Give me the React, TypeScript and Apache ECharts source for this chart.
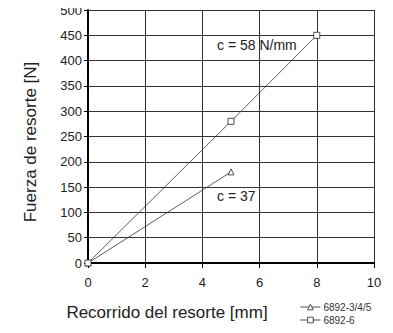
import React, { useEffect, useRef } from "react";
import * as echarts from "echarts";

const seriesNames = ["6892-3/4/5", "6892-6"];
const travelA = [0, 5];
const forceA = [0, 180];
const travelB = [0, 5, 8];
const forceB = [0, 280, 450];
const labelTexts = ["c = 58 N/mm", "c = 37"];
const axisTitles = ["Recorrido del resorte [mm]", "Fuerza de resorte [N]"];

export default function App() {
  const ref = useRef<HTMLDivElement>(null);
  useEffect(() => {
    const chart = echarts.init(ref.current!, null, { renderer: "svg" });
    const font = "Liberation Sans, Arial, sans-serif";
    chart.setOption({
      animation: false,
      backgroundColor: "#fff",
      textStyle: { fontFamily: font },
      grid: { left: 88, top: 10, right: 19, bottom: 70 },
      xAxis: {
        type: "value",
        min: 0,
        max: 10,
        interval: 2,
        axisLine: { onZero: false, lineStyle: { color: "#000", width: 2 } },
        axisTick: { show: true, length: 5, lineStyle: { color: "#000" } },
        axisLabel: { fontSize: 13, color: "#222", margin: 13, fontFamily: font },
        splitLine: { show: true, lineStyle: { color: "#333", width: 1 } },
      },
      yAxis: {
        type: "value",
        min: 0,
        max: 500,
        interval: 50,
        axisLine: { onZero: false, lineStyle: { color: "#000", width: 2 } },
        axisTick: { show: true, length: 4, lineStyle: { color: "#000" } },
        axisLabel: { fontSize: 13, color: "#222", margin: 6, fontFamily: font },
        splitLine: { show: true, lineStyle: { color: "#333", width: 1 } },
      },
      legend: {
        orient: "vertical",
        left: 300,
        top: 302,
        padding: 0,
        itemWidth: 20,
        itemHeight: 7,
        itemGap: 3,
        itemStyle: { color: "#fff", borderColor: "#222", borderWidth: 0.8 },
        lineStyle: { color: "#222", width: 0.8 },
        textStyle: { fontSize: 10, color: "#333", fontFamily: font, padding: [0, 0, 0, -2] },
        data: seriesNames,
      },
      series: [
        {
          name: seriesNames[0],
          type: "line",
          data: travelA.map((x, i) => [x, forceA[i]]),
          symbol: "triangle",
          symbolSize: 6,
          lineStyle: { color: "#333", width: 0.8 },
          itemStyle: { color: "#fff", borderColor: "#222", borderWidth: 0.8 },
        },
        {
          name: seriesNames[1],
          type: "line",
          data: travelB.map((x, i) => [x, forceB[i]]),
          symbol: "rect",
          symbolSize: 6,
          lineStyle: { color: "#333", width: 0.8 },
          itemStyle: { color: "#fff", borderColor: "#222", borderWidth: 0.8 },
        },
      ],
      graphic: [
        {
          type: "text",
          left: 217,
          top: 38,
          style: { text: labelTexts[0], fontSize: 14, fill: "#222", fontFamily: font },
        },
        {
          type: "text",
          left: 217,
          top: 189,
          style: { text: labelTexts[1], fontSize: 14, fill: "#222", fontFamily: font },
        },
        {
          type: "text",
          x: 167,
          y: 312,
          style: {
            text: axisTitles[0],
            fontSize: 17,
            fill: "#222",
            fontFamily: font,
            align: "center",
            verticalAlign: "middle",
          },
        },
        {
          type: "text",
          x: 30,
          y: 142,
          rotation: Math.PI / 2,
          style: {
            text: axisTitles[1],
            fontSize: 17,
            fill: "#222",
            fontFamily: font,
            align: "center",
            verticalAlign: "middle",
          },
        },
      ],
    });
    return () => chart.dispose();
  }, []);
  return <div ref={ref} style={{ width: 393, height: 333, margin: -8 }} />;
}
